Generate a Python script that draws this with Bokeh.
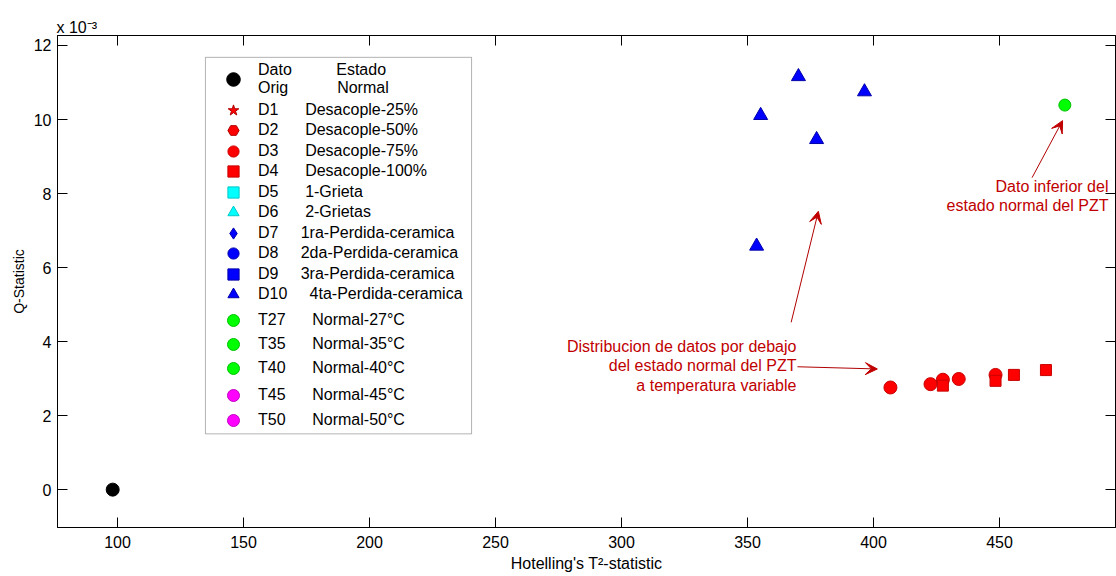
import math
from bokeh.plotting import figure
from bokeh.models import (Range1d, LinearAxis, FixedTicker, Legend, LegendItem,
                          Label, Arrow, VeeHead, BoxAnnotation)
from bokeh.embed import file_html
from bokeh.resources import INLINE

NAN = float("nan")

# ---------------- data (T^2 statistic, Q statistic in units of 1e-3) ----------------
# series that are listed in the legend but have no point visible in the chart use NaN
orig_t2 = [98.1]
orig_q = [0.0]
d1_t2, d1_q = [NAN], [NAN]
d2_t2, d2_q = [NAN], [NAN]
d3_t2 = [406.7, 422.6, 427.5, 433.8, 448.4]
d3_q = [2.76, 2.85, 2.97, 2.99, 3.10]
d4_t2 = [427.5, 448.4, 455.7, 468.4]
d4_q = [2.81, 2.94, 3.10, 3.23]
d5_t2, d5_q = [NAN], [NAN]
d6_t2, d6_q = [NAN], [NAN]
d7_t2, d7_q = [NAN], [NAN]
d8_t2, d8_q = [NAN], [NAN]
d9_t2, d9_q = [NAN], [NAN]
d10_t2 = [370.2, 396.4, 355.2, 377.4, 353.6]
d10_q = [11.16, 10.75, 10.11, 9.46, 6.58]
t27_t2 = [475.9]
t27_q = [10.39]
t35_t2, t35_q = [NAN], [NAN]
t40_t2, t40_q = [NAN], [NAN]
t45_t2, t45_q = [NAN], [NAN]
t50_t2, t50_q = [NAN], [NAN]

x_ticks = [100, 150, 200, 250, 300, 350, 400, 450]
y_ticks = [0, 2, 4, 6, 8, 10, 12]

codes = ["D1", "D2", "D3", "D4", "D5", "D6", "D7", "D8", "D9", "D10"]
descs = ["Desacople-25%", "Desacople-50%", "Desacople-75%", "Desacople-100%",
         "1-Grieta", "2-Grietas", "1ra-Perdida-ceramica", "2da-Perdida-ceramica",
         "3ra-Perdida-ceramica", "4ta-Perdida-ceramica"]
t_codes = ["T27", "T35", "T40", "T45", "T50"]
t_descs = ["Normal-27°C", "Normal-35°C", "Normal-40°C", "Normal-45°C", "Normal-50°C"]

# annotation arrows (tail -> tip), data units
arrow_tail_t2 = [367.3, 369.8, 462.9]
arrow_tail_q = [4.52, 3.32, 8.43]
arrow_tip_t2 = [378.1, 401.5, 475.0]
arrow_tip_q = [7.52, 3.26, 9.97]

FONT = "Liberation Sans"
RED_TXT = "#c00000"

p = figure(width=1116, height=574, output_backend="svg", toolbar_location=None,
           x_range=Range1d(76.2, 496.0), y_range=Range1d(-1.023, 12.27),
           min_border_left=57, min_border_right=1, min_border_top=35, min_border_bottom=45,
           x_axis_label="Hotelling's T²-statistic", y_axis_label="Q-Statistic",
           title="x 10⁻³")
p.xgrid.visible = False
p.ygrid.visible = False
p.outline_line_color = "black"
p.outline_line_alpha = 1
p.background_fill_color = "white"
p.border_fill_color = "white"
p.title.text_font = FONT
p.title.text_font_size = "16px"
p.title.text_font_style = "normal"
p.title.text_color = "black"
p.title.align = "left"
p.title.standoff = 0
p.title.offset = -1


def style_axis(ax, ticks, labels=True):
    ax.ticker = FixedTicker(ticks=ticks, minor_ticks=[])
    ax.major_tick_in = 10
    ax.major_tick_out = 0
    ax.minor_tick_in = 0
    ax.minor_tick_out = 0
    ax.axis_line_color = "black"
    ax.major_tick_line_color = "black"
    ax.major_label_text_font = FONT
    ax.major_label_text_font_size = "16px"
    ax.major_label_text_color = "black"
    ax.axis_label_text_font = FONT
    ax.axis_label_text_font_style = "normal"
    ax.axis_label_text_color = "black"
    if not labels:
        ax.major_label_overrides = {t: "" for t in ticks}
        ax.major_label_text_font_size = "1px"
        ax.major_label_standoff = 0


style_axis(p.xaxis[0], x_ticks)
p.xaxis[0].major_label_standoff = 8
p.xaxis[0].axis_label_standoff = 4
p.xaxis[0].axis_label_text_font_size = "16px"
style_axis(p.yaxis[0], y_ticks)
p.yaxis[0].major_label_standoff = 6
p.yaxis[0].axis_label_standoff = 4
p.yaxis[0].axis_label_text_font_size = "14px"

top_ax = LinearAxis()
style_axis(top_ax, x_ticks, labels=False)
p.add_layout(top_ax, "above")
right_ax = LinearAxis()
style_axis(right_ax, y_ticks, labels=False)
p.add_layout(right_ax, "right")


# ---------------- series ----------------
def sc(xs, ys, marker, fill, line, size, angle=0.0):
    return p.scatter(xs, ys, marker=marker, size=size, fill_color=fill, line_color=line,
                     line_width=1, angle=angle)


r_orig = sc(orig_t2, orig_q, "circle", "black", "black", 13)
r_d = [
    sc(d1_t2, d1_q, "star", "#ff0000", "#b00000", 12),
    sc(d2_t2, d2_q, "hex", "#ff0000", "#b00000", 11),
    sc(d3_t2, d3_q, "circle", "#ff0000", "#c80000", 13),
    sc(d4_t2, d4_q, "square", "#ff0000", "#c80000", 11),
    sc(d5_t2, d5_q, "square", "#00ffff", "#00c8c8", 11),
    sc(d6_t2, d6_q, "triangle", "#00ffff", "#00c8c8", 12, math.pi / 2),
    sc(d7_t2, d7_q, "diamond", "#0000ff", "#0000aa", 13),
    sc(d8_t2, d8_q, "circle", "#0000ff", "#0000aa", 12),
    sc(d9_t2, d9_q, "square", "#0000ff", "#0000aa", 11),
    sc(d10_t2, d10_q, "triangle", "#0000ff", "#0000aa", 14),
]
r_t = [
    sc(t27_t2, t27_q, "circle", "#00ff00", "#00c000", 12),
    sc(t35_t2, t35_q, "circle", "#00ff00", "#00c000", 12),
    sc(t40_t2, t40_q, "circle", "#00ff00", "#00c000", 12),
    sc(t45_t2, t45_q, "circle", "#ff00ff", "#c000c0", 12),
    sc(t50_t2, t50_q, "circle", "#ff00ff", "#c000c0", 12),
]

# ---------------- legend ----------------
box = BoxAnnotation(left=134.9, right=240.5, top=11.68, bottom=1.507,
                    fill_color="white", fill_alpha=1.0, line_color="black", line_width=1,
                    level="annotation")
p.add_layout(box)

FRAME_BOTTOM_PX = 529
LEFT = 159


def row_legend(label, renderer, center_y_page, h):
    vy = FRAME_BOTTOM_PX - (center_y_page + h / 2.0)
    leg = Legend(items=[LegendItem(label=label, renderers=[renderer])],
                 location=(LEFT, vy), glyph_width=34, glyph_height=h, label_height=h,
                 padding=0, margin=0, spacing=0, label_standoff=8,
                 border_line_color=None, background_fill_alpha=0,
                 label_text_font=FONT, label_text_font_size="16px",
                 label_text_color="black", label_text_line_height=1.1)
    p.add_layout(leg, "center")


row_legend("Dato" + " " * 10 + "Estado\nOrig" + " " * 11 + "Normal", r_orig, 81.5, 34)
gaps = [6, 6, 6, 6, 6, 6, 5, 5, 5, 5]
for i, (c, d, r) in enumerate(zip(codes, descs, r_d)):
    row_legend(c + " " * gaps[i] + d, r, 111.5 + 20.55 * i, 28)
t_rows = [321.5, 345.5, 370.0, 397.0, 422.0]
for i, (c, d, r) in enumerate(zip(t_codes, t_descs, r_t)):
    row_legend(c + " " * 6 + d, r, t_rows[i], 30)

# ---------------- annotations ----------------
for xs, ys, xe, ye in zip(arrow_tail_t2, arrow_tail_q, arrow_tip_t2, arrow_tip_q):
    p.add_layout(Arrow(x_start=xs, y_start=ys, x_end=xe, y_end=ye,
                       line_color="#b00000", line_width=1,
                       end=VeeHead(size=12, fill_color="#c00000", line_color="#c00000",
                                   line_width=1)))

p.add_layout(Label(x=369.4, y=3.35,
                   text="Distribucion de datos por debajo\ndel estado normal del PZT\na temperatura variable",
                   text_align="right", text_baseline="middle", text_font=FONT,
                   text_font_size="16px", text_color=RED_TXT, text_line_height=1.15))
p.add_layout(Label(x=493.2, y=7.93,
                   text="Dato inferior del\nestado normal del PZT",
                   text_align="right", text_baseline="middle", text_font=FONT,
                   text_font_size="16px", text_color=RED_TXT, text_line_height=1.15))

open("out.html", "w").write(file_html(p, INLINE))
